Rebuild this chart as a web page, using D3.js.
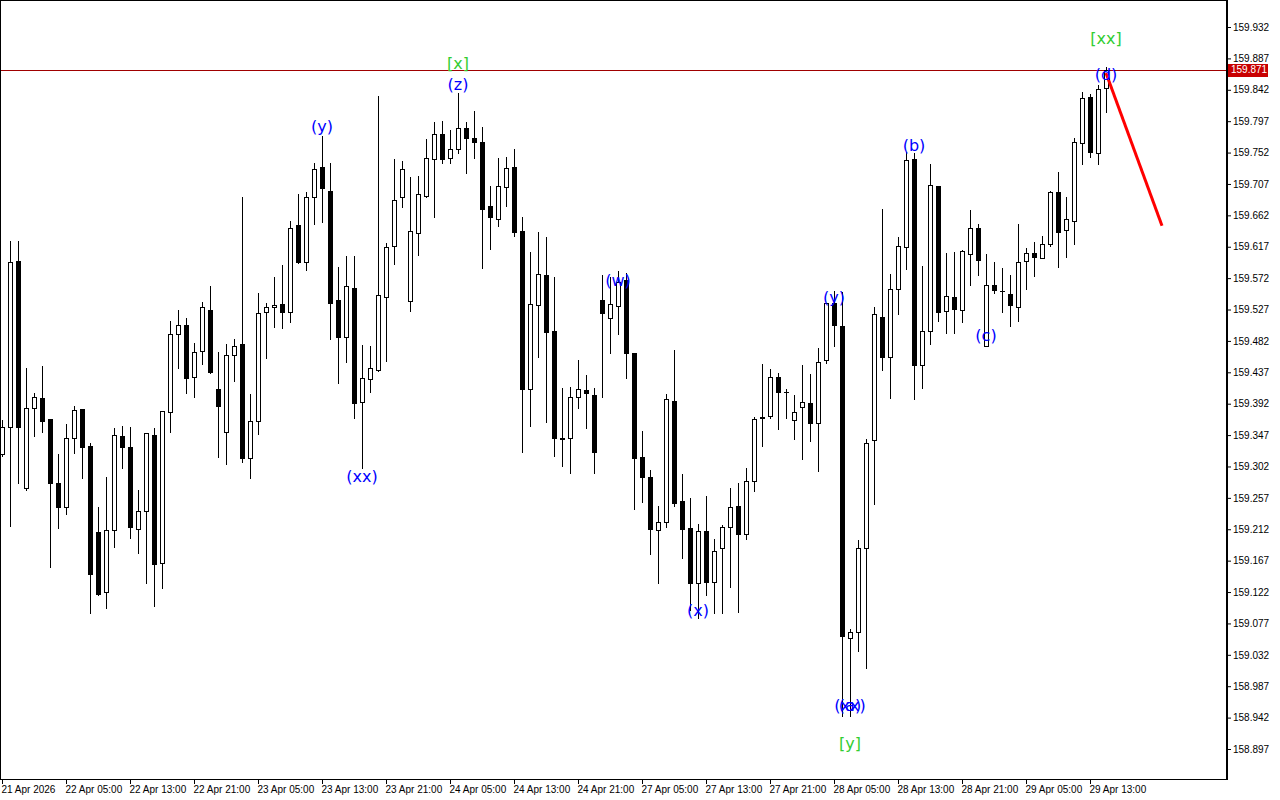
<!DOCTYPE html>
<html><head><meta charset="utf-8">
<script src="https://cdn.jsdelivr.net/npm/d3@7"></script>
<style>html,body{margin:0;padding:0;background:#fff;}svg{display:block;}</style>
</head><body>
<svg id="c" width="1280" height="800"></svg>
<script>
const opens=[159.320,159.359,159.597,159.271,159.386,159.400,159.370,159.278,159.244,159.343,159.384,159.331,159.208,159.122,159.211,159.346,159.330,159.212,159.238,159.347,159.164,159.380,159.492,159.505,159.430,159.468,159.526,159.413,159.351,159.462,159.478,159.314,159.367,159.523,159.531,159.535,159.523,159.648,159.595,159.688,159.731,159.697,159.541,159.488,159.558,159.394,159.427,159.440,159.545,159.618,159.688,159.539,159.637,159.690,159.743,159.779,159.744,159.757,159.787,159.773,159.767,159.675,159.657,159.703,159.731,159.640,159.413,159.533,159.576,159.496,159.343,159.343,159.402,159.412,159.404,159.541,159.515,159.532,159.569,159.465,159.316,159.287,159.211,159.222,159.396,159.253,159.214,159.135,159.209,159.136,159.185,159.215,159.245,159.205,159.281,159.371,159.374,159.430,159.409,159.369,159.387,159.393,159.364,159.455,159.536,159.503,159.056,159.065,159.185,159.340,159.516,159.459,159.556,159.617,159.743,159.447,159.496,159.704,159.525,159.545,159.526,159.607,159.644,159.475,159.562,159.554,159.549,159.531,159.597,159.608,159.601,159.621,159.695,159.641,159.654,159.766,159.832,159.751,159.845];
const highs=[159.369,159.625,159.625,159.443,159.407,159.446,159.370,159.320,159.363,159.389,159.384,159.336,159.244,159.287,159.357,159.360,159.359,159.268,159.350,159.357,159.382,159.511,159.526,159.515,159.479,159.538,159.561,159.466,159.478,159.485,159.688,159.406,159.551,159.536,159.574,159.591,159.654,159.693,159.695,159.737,159.776,159.737,159.588,159.604,159.604,159.476,159.475,159.833,159.622,159.743,159.740,159.717,159.718,159.771,159.796,159.797,159.784,159.837,159.796,159.812,159.789,159.704,159.744,159.746,159.757,159.660,159.609,159.638,159.631,159.574,159.414,159.416,159.455,159.433,159.414,159.576,159.574,159.582,159.579,159.465,159.353,159.297,159.245,159.406,159.469,159.291,159.257,159.220,159.260,159.198,159.218,159.271,159.278,159.300,159.373,159.449,159.442,159.436,159.413,159.404,159.447,159.435,159.472,159.536,159.554,159.552,159.069,159.197,159.341,159.531,159.671,159.578,159.631,159.753,159.751,159.589,159.736,159.704,159.608,159.609,159.612,159.670,159.650,159.607,159.595,159.587,159.576,159.650,159.615,159.624,159.632,159.697,159.724,159.688,159.773,159.839,159.836,159.849,159.875];
const lows=[159.317,159.217,159.278,159.268,159.346,159.351,159.158,159.214,159.234,159.321,159.286,159.092,159.118,159.099,159.187,159.300,159.199,159.178,159.135,159.102,159.128,159.351,159.443,159.407,159.402,159.449,159.436,159.316,159.306,159.425,159.308,159.286,159.349,159.458,159.502,159.501,159.509,159.594,159.584,159.650,159.652,159.485,159.422,159.452,159.371,159.300,159.409,159.439,159.453,159.592,159.674,159.525,159.605,159.688,159.660,159.737,159.737,159.751,159.723,159.744,159.587,159.614,159.647,159.675,159.632,159.323,159.360,159.459,159.366,159.317,159.303,159.293,159.386,159.357,159.293,159.402,159.465,159.492,159.429,159.241,159.251,159.177,159.135,159.215,159.245,159.171,159.096,159.085,159.118,159.092,159.092,159.129,159.093,159.198,159.267,159.331,159.371,159.356,159.371,159.341,159.313,159.339,159.296,159.450,159.475,158.944,158.944,159.037,159.013,159.248,159.440,159.400,159.521,159.585,159.399,159.414,159.478,159.511,159.493,159.493,159.509,159.562,159.576,159.475,159.551,159.523,159.503,159.511,159.556,159.575,159.601,159.618,159.588,159.602,159.621,159.736,159.746,159.736,159.810];
const closes=[159.359,159.595,159.359,159.386,159.402,159.367,159.278,159.244,159.343,159.383,159.330,159.148,159.119,159.211,159.347,159.330,159.215,159.238,159.350,159.162,159.382,159.492,159.505,159.429,159.466,159.531,159.437,159.389,159.462,159.475,159.314,159.367,159.522,159.531,159.533,159.523,159.644,159.595,159.688,159.728,159.701,159.536,159.488,159.561,159.393,159.429,159.443,159.548,159.617,159.684,159.728,159.640,159.693,159.744,159.779,159.743,159.757,159.787,159.773,159.767,159.671,159.660,159.704,159.730,159.638,159.413,159.535,159.578,159.495,159.343,159.341,159.402,159.413,159.407,159.323,159.522,159.535,159.566,159.465,159.314,159.287,159.212,159.222,159.399,159.250,159.212,159.135,159.209,159.136,159.181,159.215,159.244,159.205,159.281,159.370,159.373,159.430,159.409,159.409,159.380,159.394,159.364,159.452,159.536,159.505,159.059,159.065,159.185,159.336,159.521,159.459,159.556,159.618,159.741,159.447,159.496,159.706,159.523,159.546,159.528,159.611,159.644,159.598,159.562,159.555,159.554,159.533,159.595,159.608,159.602,159.621,159.695,159.638,159.657,159.767,159.830,159.753,159.843,159.871];
const priceTicks=[159.932,159.887,159.842,159.797,159.752,159.707,159.662,159.617,159.572,159.527,159.482,159.437,159.392,159.347,159.302,159.257,159.212,159.167,159.122,159.077,159.032,158.987,158.942,158.897];
const timeTickIdx=[0,8,16,24,32,40,48,56,64,72,80,88,96,104,112,120,128,136];
const timeTickLabels=["21 Apr 2026","22 Apr 05:00","22 Apr 13:00","22 Apr 21:00","23 Apr 05:00","23 Apr 13:00","23 Apr 21:00","24 Apr 05:00","24 Apr 13:00","24 Apr 21:00","27 Apr 05:00","27 Apr 13:00","27 Apr 21:00","28 Apr 05:00","28 Apr 13:00","28 Apr 21:00","29 Apr 05:00","29 Apr 13:00"];
const waveText=["[x]","(z)","(y)","(xx)","(w)","(x)","(y)","(xx)","(a)","[y]","(b)","(c)","(d)","[xx]"];
const waveIdx=[57,57,40,45,77,87,104,106,106,106,114,123,138,138];
const wavePrice=[159.879,159.850,159.789,159.287,159.568,159.096,159.544,158.959,158.959,158.905,159.762,159.490,159.864,159.916];
const waveColor=["g","b","b","b","b","b","b","b","b","g","b","b","b","g"];
const bidPrice=159.871;
const projIdx=[138,145];
const projPrice=[159.866,159.647];

const svg=d3.select("#c");
const plotR=1227,plotB=779;
const x=d3.scaleLinear().domain([0,138]).range([2,1106]);
const y=d3.scaleLinear().domain([158.897,159.932]).range([749,27]);

svg.append("defs").append("clipPath").attr("id","clip").append("rect").attr("x",1).attr("y",1).attr("width",plotR-1).attr("height",plotB-1);
const g=svg.append("g").attr("clip-path","url(#clip)");

// bid line
g.append("line").attr("x1",1).attr("x2",plotR).attr("y1",Math.round(y(bidPrice))+0.5).attr("y2",Math.round(y(bidPrice))+0.5).attr("stroke","#a00000").attr("stroke-width",1);

const data=opens.map((o,i)=>({i,o,h:highs[i],l:lows[i],c:closes[i]}));
const cg=g.append("g");
data.forEach(d=>{
  const cx=Math.round(x(d.i));
  const yt=Math.round(y(Math.max(d.o,d.c))), yb=Math.round(y(Math.min(d.o,d.c)));
  cg.append("line").attr("x1",cx+0.5).attr("x2",cx+0.5).attr("y1",Math.round(y(d.h))).attr("y2",Math.round(y(d.l))+1).attr("stroke","#000").attr("stroke-width",1);
  if(yb-yt<1){
    cg.append("line").attr("x1",cx-2).attr("x2",cx+3).attr("y1",yt+0.5).attr("y2",yt+0.5).attr("stroke","#000");
  } else {
    cg.append("rect").attr("x",cx-1.5).attr("y",yt+0.5).attr("width",4).attr("height",yb-yt)
      .attr("fill",d.c>=d.o?"#fff":"#000").attr("stroke","#000").attr("stroke-width",1);
  }
});

// projection line
g.append("line").attr("x1",x(projIdx[0])).attr("y1",y(projPrice[0])).attr("x2",x(projIdx[1])).attr("y2",y(projPrice[1]))
  .attr("stroke","#ff0000").attr("stroke-width",3);

// wave labels
waveText.forEach((t,k)=>{
  g.append("text").attr("x",x(waveIdx[k])).attr("y",y(wavePrice[k])).attr("text-anchor","middle").attr("dominant-baseline","central")
   .attr("font-family","DejaVu Sans, sans-serif").attr("font-size",16)
   .attr("fill",waveColor[k]==="g"?"#32cd32":"#0000ff").text(t);
});

// frame
svg.append("line").attr("x1",0.5).attr("x2",0.5).attr("y1",0).attr("y2",plotB).attr("stroke","#000");
svg.append("line").attr("x1",0).attr("x2",plotR).attr("y1",0.5).attr("y2",0.5).attr("stroke","#000");
svg.append("line").attr("x1",0).attr("x2",plotR).attr("y1",plotB+0.5).attr("y2",plotB+0.5).attr("stroke","#000");
svg.append("line").attr("x1",plotR).attr("x2",plotR).attr("y1",0).attr("y2",plotB+1).attr("stroke","#000").attr("stroke-width",2);

// right axis
const ya=d3.axisRight(y).tickValues(priceTicks).tickFormat(d3.format(".3f")).tickSize(4).tickPadding(2);
const yg=svg.append("g").attr("transform",`translate(${plotR},0)`).call(ya);
yg.select(".domain").remove();
yg.selectAll("text").attr("font-family","Liberation Sans, Arial, sans-serif").attr("font-size",10).attr("fill","#000");
yg.selectAll("line").attr("stroke","#000");

// bottom axis
const xa=d3.axisBottom(x).tickValues(timeTickIdx).tickFormat((d,i)=>timeTickLabels[i]).tickSize(5).tickPadding(2);
const xg=svg.append("g").attr("transform",`translate(0,${plotB})`).call(xa);
xg.select(".domain").remove();
xg.selectAll("text").attr("text-anchor","start").attr("dx",-1).attr("font-family","Liberation Sans, Arial, sans-serif").attr("font-size",10).attr("fill","#000");
xg.selectAll("line").attr("stroke","#000");

// bid price label
const by=y(bidPrice);
svg.append("rect").attr("x",plotR+1).attr("y",Math.round(by)-6).attr("width",40).attr("height",13).attr("fill","#c80000");
svg.append("text").attr("x",plotR+4).attr("y",by).attr("dominant-baseline","central").attr("font-family","Liberation Sans, Arial, sans-serif").attr("font-size",10).attr("fill","#fff").text(d3.format(".3f")(bidPrice));
</script>
</body></html>
